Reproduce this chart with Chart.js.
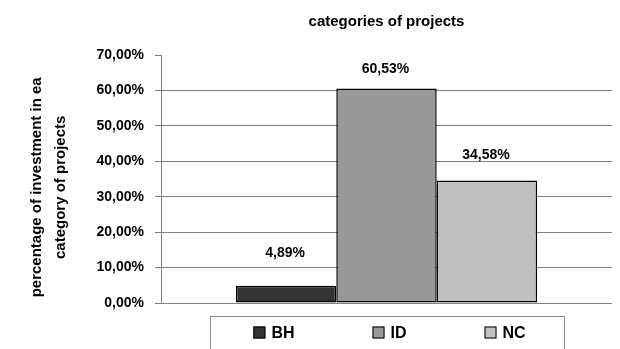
<!DOCTYPE html>
<html>
<head>
<meta charset="utf-8">
<script src="https://cdn.jsdelivr.net/npm/chart.js@4"></script>
<style>
  html, body { margin: 0; padding: 0; background: #fff; }
  #wrap { width: 620px; height: 349px; }
</style>
</head>
<body>
<div id="wrap"><canvas id="myChart" width="620" height="349"></canvas></div>
<script>
// data
const categories = ['BH', 'ID', 'NC'];
const investmentShare = [4.89, 60.53, 34.58];
const barColors = ['#333333', '#999999', '#c0c0c0'];
const yTicks = [0, 10, 20, 30, 40, 50, 60, 70];

const FONT = "'Liberation Sans', Arial, sans-serif";

function pct(v) {
    return v.toFixed(2).replace('.', ',') + '%';
}

// one dataset per category so the bars sit side by side like the original
const datasets = categories.map((name, i) => ({
    label: name,
    data: [investmentShare[i]],
    backgroundColor: barColors[i],
    borderColor: '#000',
    borderWidth: 1.5,
    borderSkipped: false,
    barPercentage: 1,
    categoryPercentage: 0.668
}));

// value labels above each bar
const valueLabels = {
    id: 'valueLabels',
    afterDatasetsDraw(chart, args, options) {
        const { ctx } = chart;
        ctx.save();
        ctx.font = `bold 14px ${FONT}`;
        ctx.fillStyle = '#000';
        ctx.textAlign = 'center';
        ctx.textBaseline = 'middle';
        chart.data.datasets.forEach((ds, i) => {
            const bar = chart.getDatasetMeta(i).data[0];
            ctx.fillText(pct(ds.data[0]), bar.x - 1, bar.y - options.offsets[i]);
        });
        ctx.restore();
    }
};

// legend in a frame under the plot
const boxedLegend = {
    id: 'boxedLegend',
    afterDraw(chart, args, options) {
        const { ctx, chartArea } = chart;
        const mid = (chartArea.left + chartArea.right) / 2;
        const top = chartArea.bottom + 13;
        ctx.save();
        ctx.strokeStyle = '#8a8a8a';
        ctx.lineWidth = 1;
        ctx.strokeRect(Math.round(mid - options.width / 2) + 0.5, top + 0.5, options.width, 60);

        ctx.font = `bold 16px ${FONT}`;
        ctx.textBaseline = 'middle';
        const items = chart.data.datasets.map(ds => ({
            text: ds.label,
            color: ds.backgroundColor,
            w: options.box + options.gap + ctx.measureText(ds.label).width
        }));
        const total = items.reduce((s, it) => s + it.w, 0) + options.spacing * (items.length - 1);
        let x = mid + 3 - total / 2;
        const cy = top + 16.5;
        items.forEach(it => {
            ctx.fillStyle = it.color;
            ctx.fillRect(x, cy - options.box / 2, options.box, options.box);
            ctx.strokeStyle = '#000';
            ctx.strokeRect(x + 0.5, cy - options.box / 2 + 0.5, options.box - 1, options.box - 1);
            ctx.fillStyle = '#000';
            ctx.textAlign = 'left';
            ctx.fillText(it.text, x + options.box + options.gap, cy + 1);
            x += it.w + options.spacing;
        });
        ctx.restore();
    }
};

const config = {
    type: 'bar',
    data: {
        labels: [''],
        datasets: datasets
    },
    options: {
        responsive: false,
        animation: false,
        layout: {
            padding: { left: 0, right: 8, top: 0, bottom: 46 }
        },
        scales: {
            x: {
                display: false
            },
            y: {
                min: 0,
                max: 70,
                afterBuildTicks: scale => {
                    scale.ticks = yTicks.map(v => ({ value: v }));
                },
                afterFit: scale => {
                    scale.width = 161;
                },
                ticks: {
                    padding: 11,
                    color: '#000',
                    font: { family: FONT, size: 14, weight: 'bold' },
                    callback: v => pct(v)
                },
                grid: {
                    color: ctx => (ctx.tick && ctx.tick.value === 70 ? 'rgba(0,0,0,0)' : '#808080'),
                    tickColor: '#808080',
                    tickLength: 6,
                    lineWidth: 1
                },
                border: {
                    display: true,
                    color: '#808080',
                    width: 1
                },
                title: {
                    display: true,
                    // trailing spaces nudge the centred lines down a little, as in the original
                    text: ['percentage of investment in ea    ', 'category of projects    '],
                    color: '#000',
                    font: { family: FONT, size: 15, weight: 'bold', lineHeight: 1.6 },
                    padding: { top: 25, bottom: 0 }
                }
            }
        },
        plugins: {
            legend: { display: false },
            tooltip: { enabled: false },
            title: {
                display: true,
                fullSize: false,
                text: 'categories of projects',
                color: '#000',
                font: { family: FONT, size: 15, weight: 'bold', lineHeight: 1.2 },
                padding: { top: 13, bottom: 24 }
            },
            valueLabels: {
                offsets: [33, 19, 25]
            },
            boxedLegend: {
                width: 354,
                box: 12,
                gap: 6,
                spacing: 78
            }
        }
    },
    plugins: [valueLabels, boxedLegend]
};

const myChart = new Chart(document.getElementById('myChart'), config);
</script>
</body>
</html>
